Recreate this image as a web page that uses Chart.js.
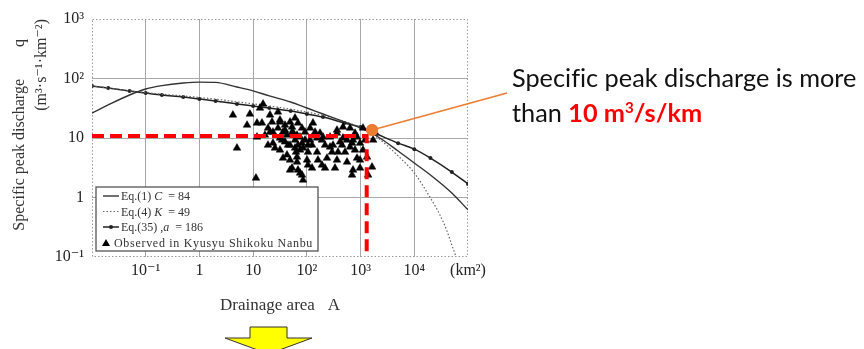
<!DOCTYPE html>
<html><head><meta charset="utf-8">
<script src="https://cdn.jsdelivr.net/npm/chart.js@4.4.1/dist/chart.umd.min.js"></script>
<style>
html,body{margin:0;padding:0;background:#fff;}
#wrap{position:relative;width:864px;height:349px;overflow:hidden;background:#fff;}
#c{position:absolute;left:0;top:0;}
#note{position:absolute;left:512px;top:60px;font-family:Lato,'Open Sans',sans-serif;font-size:25.3px;line-height:35px;color:#111;white-space:nowrap;font-variant-ligatures:none;}
#note b{color:#ff0000;font-weight:700;}
#note sup{font-size:0.6em;vertical-align:baseline;position:relative;top:-0.6em;line-height:0;}
#arrow{position:absolute;left:0;top:0;}
</style></head><body>
<div id="wrap">
<canvas id="c" width="864" height="349"></canvas>
<div id="note">Specific peak discharge is more<br>than <b>10 m<sup>3</sup>/s/km</b></div>
<svg id="arrow" width="864" height="349"><polygon points="250,327 287,327 287,338 312,338 268.5,354 225,338 250,338" fill="#ffff00" stroke="#333" stroke-width="1"/></svg>
</div>
<script>
// ---- tick values / labels ----
const xTickValues = [0.01, 0.1, 1, 10, 100, 1000, 10000, 100000];
const xTickLabels = ['', '10\u207B\u00B9', '1', '10', '10\u00B2', '10\u00B3', '10\u2074', '(km\u00B2)'];
const yTickValues = [0.1, 1, 10, 100, 1000];
const yTickLabels = ['10\u207B\u00B9', '1', '10', '10\u00B2', '10\u00B3'];

// ---- curves (drainage area km2 -> specific peak discharge) ----
const curveArea = [0.01,0.02,0.05,0.1,0.2,0.5,1,2,5,10,20,50,100,200,500,1000,2000,5000,10000,20000,50000,100000];
const eq1Q  = [26.3,35.9,52.8,66.6,76,84,87,86,72,62,51,40.3,31.9,25.3,18.6,14.7,10.8,6.05,3.8,2.39,1.19,0.62];
const eq35Q = [74.8,69.2,61.6,57,52.8,48.9,45.2,41.9,37.3,34.5,31.9,28.4,25.3,22.5,17.9,15.3,11.7,8.2,6.5,4.6,2.68,1.69];
const eq4Area = [0.01,0.02,0.05,0.1,0.2,0.5,1,2,5,10,20,50,100,200,500,1000,2000,5000,10000,20000,30000,40000,50000,60000];
const eq4Q    = [74.8,69.5,62,58,54.5,51,48,45,40.5,37.5,34.5,30.5,27.3,24,19,15,10.4,5.0,2.58,0.98,0.51,0.284,0.159,0.1];

// ---- observed (Kyusyu Shikoku Nanbu) ----
const obsArea = [4.2,5.0,11.3,8.7,13.4,15.3,29.0,11.8,14.6,7.7,22.5,31.6,48.6,60.2,68.4,53,81.3,130,23.4,36,42.7,65.6,23.4,25.5,39.2,48.6,60.2,81.3,84.9,74.6,115,155,191,176,270,364,414,560,694,859,364,637,977,270,380,514,155,105,237,334,218,125,65.6,53,42.7,68.4,81.3,84.9,723,859,1320,1635,1380,694,1110,1710,31.6,200,471,723,11.8,31.6,48.6,65.6,100.7,48.6,74.6,364,560,977,637,29,39.2,53,34.5,60.2,92.5,115,18.9,16.6,74.6,125,218,294,452,788,1210,1110,977,191,36,105,20.6,39.2,55.2,44.6,68.4,92.5,31.6,18.9,142,471,307,788,161,105,62.8,20.6];
const obsQ    = [24.4,6.8,2.13,25.3,31.9,37.3,27.4,17.9,17.9,16.5,18.6,18.6,18.6,21.7,17.9,15.3,14.7,17.9,12.6,12.6,11.2,11.2,8.2,6.8,8.6,7.6,6.8,8.2,6.8,10.4,9.25,10,9.25,12.1,10.4,12.1,8.6,9.25,8.2,10.4,13.6,14.7,8.2,7.06,5.8,5.8,5.8,5.8,4.6,3.13,3.13,3.13,3.95,3.13,5.2,2.9,2.39,1.97,2.9,4.6,4.8,3.26,2.39,2.39,14.7,9.25,20.1,10.4,15.3,9.25,10.4,6.3,4.27,4.8,4.27,2.9,2.58,4.27,3.95,4.27,7.06,14.7,16.5,12.6,9.25,9.25,12.6,14.7,14.7,11.2,6.3,7.6,7.6,5.8,7.6,12.1,9.25,6.3,3.13,3.52,4.6,7.6,24.4,13.6,12.6,7.6,7.6,9.25,10,7.6,12.6,10,7.6,6.3,4.27,3.52,5.8,12.6];

// ---- highlight (red dashed threshold + orange marker) ----
const thresholdArea = [0.01, 1300, 1300];
const thresholdQ    = [10.8, 10.8, 0.1];
const markArea = [1640];
const markQ    = [13.6];

const legendRows = [
  [['Eq.(1) ', 0], ['C', 1], ['  = 84', 0]],
  [['Eq.(4) ', 0], ['K', 1], ['  = 49', 0]],
  [['Eq.(35) ,', 0], ['a', 1], ['  = 186', 0]],
  [['Observed in Kyusyu Shikoku Nanbu', 0]]
];

const pts = (xs, ys) => xs.map((x, i) => ({x: x, y: ys[i]}));
const SERIF = "'Liberation Serif','DejaVu Serif',serif";
const near = (a, b) => Math.abs(Math.log10(a) - Math.log10(b)) < 1e-6;

const frame = {
  id: 'frame',
  beforeDatasetsDraw(chart) {
    const {ctx, chartArea: a} = chart;
    ctx.save();
    ctx.strokeStyle = '#9a9a9a'; ctx.lineWidth = 1; ctx.setLineDash([1.5, 2]);
    ctx.strokeRect(a.left + 0.5, a.top + 0.5, a.right - a.left - 1, a.bottom - a.top - 1);
    ctx.restore();
  },
  afterDatasetsDraw(chart) {
    const {ctx, chartArea: a} = chart;
    const ds = chart.data.datasets;
    const L = a.left + 4, T = a.top + 168, W = 222, H = 64;
    ctx.save();
    ctx.fillStyle = '#fff'; ctx.fillRect(L, T, W, H);
    ctx.strokeStyle = '#555'; ctx.lineWidth = 1.3; ctx.strokeRect(L, T, W, H);
    const rowY = [T + 9, T + 24.5, T + 40, T + 56];
    const styles = [ds[3], ds[4], ds[5]];
    for (let r = 0; r < 4; r++) {
      const y = rowY[r];
      const x0 = L + 7, x1 = L + 23;
      if (r < 3) {
        const d = styles[r];
        ctx.save();
        ctx.strokeStyle = d.borderColor; ctx.lineWidth = d.borderWidth;
        ctx.setLineDash(d.borderDash || []);
        ctx.beginPath(); ctx.moveTo(x0, y); ctx.lineTo(x1, y); ctx.stroke();
        ctx.restore();
        if (d.pointRadius) { ctx.fillStyle = d.borderColor; ctx.beginPath(); ctx.arc((x0 + x1) / 2, y, 2, 0, Math.PI * 2); ctx.fill(); }
      } else {
        ctx.fillStyle = '#000';
        ctx.beginPath(); ctx.moveTo(x0 + 3, y - 4); ctx.lineTo(x0 + 7, y + 3); ctx.lineTo(x0 - 1, y + 3); ctx.closePath(); ctx.fill();
      }
      let x = r < 3 ? x1 + 2 : x0 + 11;
      ctx.fillStyle = '#333'; ctx.textBaseline = 'middle'; ctx.textAlign = 'left';
      if (r === 3 && 'letterSpacing' in ctx) ctx.letterSpacing = '0.7px';
      for (const [t, it] of legendRows[r]) {
        ctx.font = (it ? 'italic ' : '') + '12px ' + SERIF;
        ctx.fillText(t, x, y + 1);
        x += ctx.measureText(t).width;
      }
      if ('letterSpacing' in ctx) ctx.letterSpacing = '0px';
    }
    ctx.restore();
  },
  afterDraw(chart) {
    const {ctx, scales} = chart;
    const px = scales.x.getPixelForValue(markArea[0]);
    const py = scales.y.getPixelForValue(markQ[0]);
    ctx.save();
    ctx.strokeStyle = '#ED7D31'; ctx.lineWidth = 1.6;
    ctx.beginPath(); ctx.moveTo(px, py); ctx.lineTo(507, 93); ctx.stroke();
    ctx.fillStyle = '#ED7D31'; ctx.beginPath(); ctx.arc(px, py, 6, 0, Math.PI * 2); ctx.fill();
    ctx.restore();
  }
};

const gridCol = (edgeA, edgeB) => (c) => {
  const v = c.tick && c.tick.value;
  if (v === undefined || near(v, edgeA) || near(v, edgeB)) return 'rgba(0,0,0,0)';
  return '#a8a8a8';
};

new Chart(document.getElementById('c'), {
  type: 'scatter',
  data: {
    datasets: [
      { label: 'threshold', data: pts(thresholdArea, thresholdQ), showLine: true, borderColor: '#ff0000', borderWidth: 4, borderDash: [12, 6], pointRadius: 0, fill: false },
      { label: 'mark', data: pts(markArea, markQ), pointRadius: 6, pointBackgroundColor: '#ED7D31', pointBorderWidth: 0, showLine: false },
      { label: 'Observed in Kyusyu Shikoku Nanbu', data: pts(obsArea, obsQ), pointStyle: 'triangle', pointRadius: 4.4, pointBackgroundColor: '#000', pointBorderColor: '#000', pointBorderWidth: 0.5, showLine: false },
      { label: 'Eq.(1) C = 84', data: pts(curveArea, eq1Q), showLine: true, borderColor: '#333', borderWidth: 1.4, pointRadius: 0, cubicInterpolationMode: 'monotone' },
      { label: 'Eq.(4) K = 49', data: pts(eq4Area, eq4Q), showLine: true, borderColor: '#666', borderWidth: 1.2, borderDash: [1.5, 2], pointRadius: 0, cubicInterpolationMode: 'monotone' },
      { label: 'Eq.(35) ,a = 186', data: pts(curveArea, eq35Q), showLine: true, borderColor: '#222', borderWidth: 1.5, pointRadius: 2, pointBackgroundColor: '#222', pointBorderWidth: 0, cubicInterpolationMode: 'monotone' }
    ]
  },
  options: {
    responsive: false, animation: false, events: [],
    layout: { padding: { left: 0, top: 19, right: 396, bottom: 0 } },
    plugins: { legend: { display: false }, tooltip: { enabled: false } },
    scales: {
      x: {
        type: 'logarithmic', min: 0.01, max: 100000,
        afterBuildTicks: s => { s.ticks = xTickValues.map(v => ({ value: v })); },
        afterFit: s => { s.height = 92; },
        ticks: { callback: (v, i) => xTickLabels[i], font: { family: SERIF, size: 16 }, color: '#222', padding: 4, maxRotation: 0, autoSkip: false },
        grid: { color: gridCol(0.01, 100000), lineWidth: 1, drawTicks: false },
        border: { display: false },
        title: { display: true, text: 'Drainage area   A', font: { family: SERIF, size: 17 }, color: '#333', padding: { top: 0, bottom: 33 } }
      },
      y: {
        type: 'logarithmic', min: 0.1, max: 1000,
        afterBuildTicks: s => { s.ticks = yTickValues.map(v => ({ value: v })); },
        afterFit: s => { s.width = 92; },
        ticks: { callback: (v, i) => yTickLabels[i], font: { family: SERIF, size: 16 }, color: '#222', padding: 8, autoSkip: false },
        grid: { color: gridCol(0.1, 1000), lineWidth: 1, drawTicks: false },
        border: { display: false },
        title: { display: true, align: 'end', text: ['Specific peak discharge\u2003\u2003q\u2003 ', '(m\u00B3\u00B7s\u207B\u00B9\u00B7km\u207B\u00B2)'], font: { family: SERIF, size: 16, lineHeight: 1.375 }, color: '#333', padding: { top: 9, bottom: 0 } }
      }
    }
  },
  plugins: [frame]
});
</script>
</body></html>
